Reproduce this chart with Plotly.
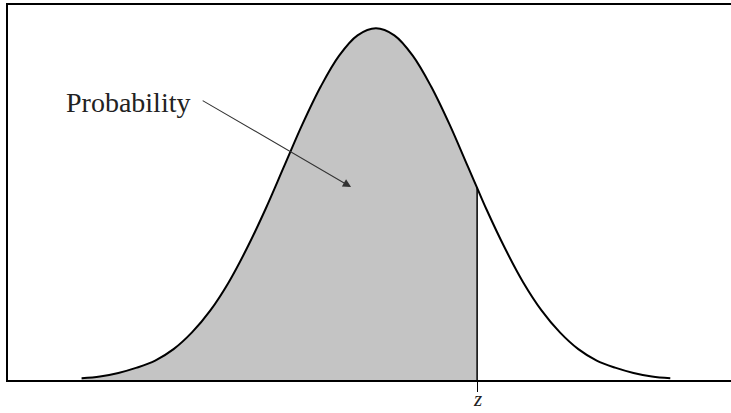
import plotly.graph_objects as go

# standard normal curve, heights
z_vals = [-3.2, -3.0, -2.8, -2.6, -2.4, -2.2, -2.0, -1.8, -1.6, -1.4, -1.2,
          -1.0, -0.8, -0.6, -0.4, -0.2, 0.0, 0.2, 0.4, 0.6, 0.8, 1.0, 1.1,
          1.2, 1.4, 1.6, 1.8, 2.0, 2.2, 2.4, 2.6, 2.8, 3.0, 3.2]
density = [0.002, 0.004, 0.008, 0.014, 0.022, 0.035, 0.054, 0.079, 0.111,
           0.150, 0.194, 0.242, 0.290, 0.333, 0.368, 0.391, 0.399, 0.391,
           0.368, 0.333, 0.290, 0.242, 0.218, 0.194, 0.150, 0.111, 0.079,
           0.054, 0.035, 0.022, 0.014, 0.008, 0.004, 0.002]
z_cut = 1.1
z_label = "z"
area_label = "Probability"

shade_x = [x for x in z_vals if x <= z_cut]
shade_y = [y for x, y in zip(z_vals, density) if x <= z_cut]

fig = go.Figure()
fig.add_trace(go.Scatter(x=shade_x, y=shade_y, mode="lines", fill="tozeroy",
                         fillcolor="#c4c4c4", line=dict(width=0, shape="spline"),
                         hoverinfo="skip"))
fig.add_trace(go.Scatter(x=z_vals, y=density, mode="lines",
                         line=dict(color="black", width=2, shape="spline")))
fig.add_trace(go.Scatter(x=[z_cut, z_cut], y=[0, shade_y[-1]], mode="lines",
                         line=dict(color="black", width=1.5)))

# arrow from the label into the shaded area
fig.add_annotation(x=-0.27, y=0.219, ax=-1.9, ay=0.318, xref="x", yref="y",
                   axref="x", ayref="y", text="", showarrow=True,
                   arrowhead=2, arrowsize=1.5, arrowwidth=1.1, arrowcolor="#333")
fig.add_annotation(x=-2.0, y=0.315, xref="x", yref="y", text=area_label,
                   showarrow=False, xanchor="right",
                   font=dict(family="Liberation Serif", size=28, color="#222"))
# the z mark under the tick
fig.add_annotation(x=z_cut, y=-0.05, xref="x", yref="paper", text=z_label,
                   showarrow=False, yanchor="middle",
                   font=dict(family="Liberation Serif", size=21, color="#222",
                             style="italic"))

fig.update_layout(
    width=731, height=413,
    margin=dict(l=8, r=0, t=5, b=33),
    paper_bgcolor="white", plot_bgcolor="white",
    showlegend=False,
    xaxis=dict(range=[-4.0, 3.86], showgrid=False, zeroline=False,
               showline=True, linecolor="black", linewidth=2, mirror=True,
               automargin=False, tickvals=[z_cut], showticklabels=False,
               ticks="outside", ticklen=10, tickcolor="black", tickwidth=1),
    yaxis=dict(range=[0, 0.4255], showgrid=False, zeroline=False,
               showline=True, linecolor="black", linewidth=2,
               automargin=False, showticklabels=False, ticks=""),
)

fig.write_html("out.html", config={"displayModeBar": False},
               post_script="document.body.style.margin='0px';")
